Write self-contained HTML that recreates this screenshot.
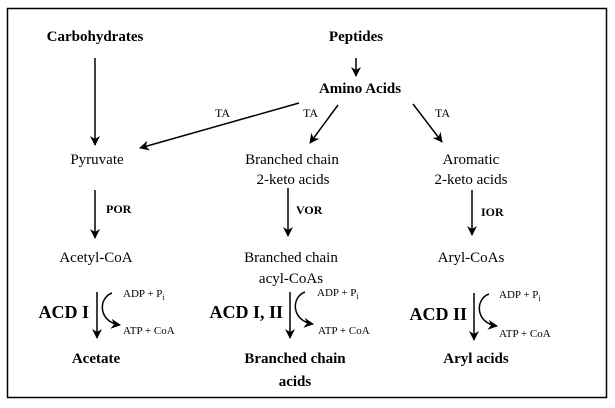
<!DOCTYPE html>
<html><head><style>
body{margin:0;background:#fff;}
svg{display:block;font-family:"Liberation Serif",serif;}
</style></head><body>
<svg width="615" height="408" viewBox="0 0 615 408" xmlns="http://www.w3.org/2000/svg">
<defs><marker id="a" markerWidth="10" markerHeight="10" refX="9" refY="5" orient="auto" markerUnits="userSpaceOnUse"><path d="M0,0 L10,5 L0,10 L3,5 z" fill="#000"/></marker></defs>
<rect x="7.5" y="8.5" width="599" height="389" fill="none" stroke="#000" stroke-width="1.5"/>
<g font-size="15" text-anchor="middle">
<text x="95" y="41" font-weight="bold">Carbohydrates</text>
<text x="356" y="41" font-weight="bold">Peptides</text>
<text x="360" y="93" font-weight="bold">Amino Acids</text>
<text x="97" y="164">Pyruvate</text>
<text x="292" y="164">Branched chain</text>
<text x="293" y="184">2-keto acids</text>
<text x="471" y="164">Aromatic</text>
<text x="471" y="184">2-keto acids</text>
<text x="96" y="262">Acetyl-CoA</text>
<text x="291" y="262">Branched chain</text>
<text x="291" y="283">acyl-CoAs</text>
<text x="471" y="262">Aryl-CoAs</text>
<text x="96" y="363" font-weight="bold">Acetate</text>
<text x="295" y="363" font-weight="bold">Branched chain</text>
<text x="295" y="386" font-weight="bold">acids</text>
<text x="476" y="363" font-weight="bold">Aryl acids</text>
</g>
<g font-size="12">
<text x="215" y="117">TA</text><text x="303" y="117">TA</text><text x="435" y="117">TA</text>
</g>
<g font-size="12" font-weight="bold">
<text x="106" y="213">POR</text><text x="296" y="214">VOR</text><text x="481" y="216">IOR</text>
</g>
<g font-size="18" font-weight="bold" text-anchor="end">
<text x="89" y="318">ACD I</text>
<text x="283" y="318">ACD I, II</text>
<text x="467" y="320">ACD II</text>
</g>
<g font-size="11">
<text x="123" y="297">ADP + P<tspan font-size="8" dy="3">i</tspan></text>
<text x="123" y="334">ATP + CoA</text>
<text x="317" y="296">ADP + P<tspan font-size="8" dy="3">i</tspan></text>
<text x="318" y="334">ATP + CoA</text>
<text x="499" y="298">ADP + P<tspan font-size="8" dy="3">i</tspan></text>
<text x="499" y="337">ATP + CoA</text>
</g>
<g stroke="#000" stroke-width="1.5" fill="none" marker-end="url(#a)">
<line x1="95" y1="58" x2="95" y2="145"/>
<line x1="356" y1="58" x2="356" y2="76"/>
<line x1="299" y1="103" x2="140" y2="148"/>
<line x1="338" y1="105" x2="310" y2="143"/>
<line x1="413" y1="104" x2="442" y2="142"/>
<line x1="95" y1="190" x2="95" y2="238"/>
<line x1="288" y1="188" x2="288" y2="236"/>
<line x1="472" y1="190" x2="472" y2="235"/>
<line x1="97" y1="292" x2="97" y2="338"/>
<line x1="290" y1="292" x2="290" y2="338"/>
<line x1="474" y1="293" x2="474" y2="340"/>
<path d="M112,293 C98,298 98,322 120,325"/>
<path d="M305,292 C291,297 291,321 313,324"/>
<path d="M489,294 C475,299 475,323 497,326"/>
</g>
</svg>
</body></html>
